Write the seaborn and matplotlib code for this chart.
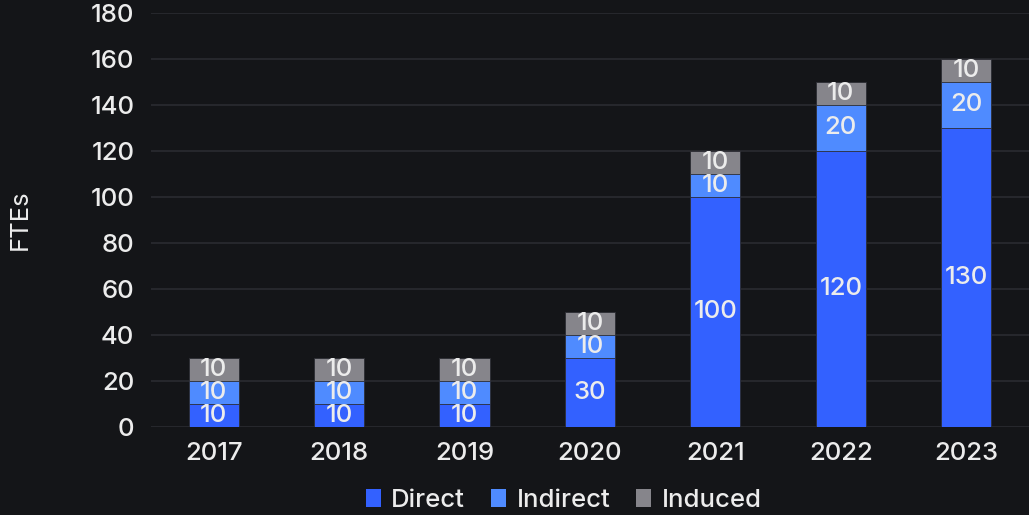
import numpy as np
import pandas as pd
import matplotlib.pyplot as plt
import seaborn as sns
from matplotlib.patches import Patch

# Data
years = ["2017", "2018", "2019", "2020", "2021", "2022", "2023"]
direct = [10, 10, 10, 30, 100, 120, 130]
indirect = [10, 10, 10, 10, 10, 20, 20]
induced = [10, 10, 10, 10, 10, 10, 10]

series = ["Direct", "Indirect", "Induced"]
colors = ["#3361ff", "#4f8bff", "#86858b"]

bg = "#141518"
txt = "#ececec"
fs = 18.5

sns.set_theme(style="dark")
plt.rcParams["font.family"] = ["Inter", "DejaVu Sans"]
plt.rcParams["font.weight"] = "medium"

df = pd.DataFrame({"Year": years, "Direct": direct, "Indirect": indirect, "Induced": induced})
df["c1"] = df["Direct"]
df["c2"] = df["Direct"] + df["Indirect"]
df["c3"] = df["c2"] + df["Induced"]

fig = plt.figure(figsize=(10.29, 5.15), dpi=100, facecolor=bg)
ax = fig.add_axes([0.1467, 0.171, 0.8533, 0.804])
ax.set_facecolor(bg)

# stacked bars drawn as cumulative totals, tallest first
for col, c in zip(["c3", "c2", "c1"], colors[::-1]):
    sns.barplot(data=df, x="Year", y=col, color=c, width=0.4, ax=ax,
                saturation=1, edgecolor="#2b2c33", linewidth=0.6, zorder=3)

# segment labels
for i in range(len(years)):
    bottom = 0
    for s in series:
        v = df[s][i]
        ax.text(i, bottom + v / 2, str(v), ha="center", va="center",
                color=txt, fontsize=fs, zorder=4)
        bottom += v

ax.set_ylim(0, 180)
ax.set_xlim(-0.5, 6.5)
ax.set_yticks(range(0, 181, 20))
ax.grid(axis="y", color="#2a2b31", linewidth=1.2, zorder=0)
ax.grid(axis="x", visible=False)
for sp in ax.spines.values():
    sp.set_visible(False)
ax.tick_params(axis="both", colors=txt, labelsize=fs, length=0)
ax.tick_params(axis="y", pad=12)
ax.tick_params(axis="x", pad=11)
ax.set_xlabel("")
ax.set_ylabel("FTEs", color=txt, fontsize=fs, labelpad=42)

handles = [Patch(facecolor=c, edgecolor="none", label=s) for s, c in zip(series, colors)]
leg = ax.legend(handles=handles, loc="center", bbox_to_anchor=(0.47, -0.178),
                ncol=3, frameon=False, fontsize=fs, handlelength=0.6, handleheight=0.7,
                handletextpad=0.4, columnspacing=1.0, borderpad=0)
for t in leg.get_texts():
    t.set_color(txt)

fig.savefig("out.png", dpi=100, facecolor=bg)
